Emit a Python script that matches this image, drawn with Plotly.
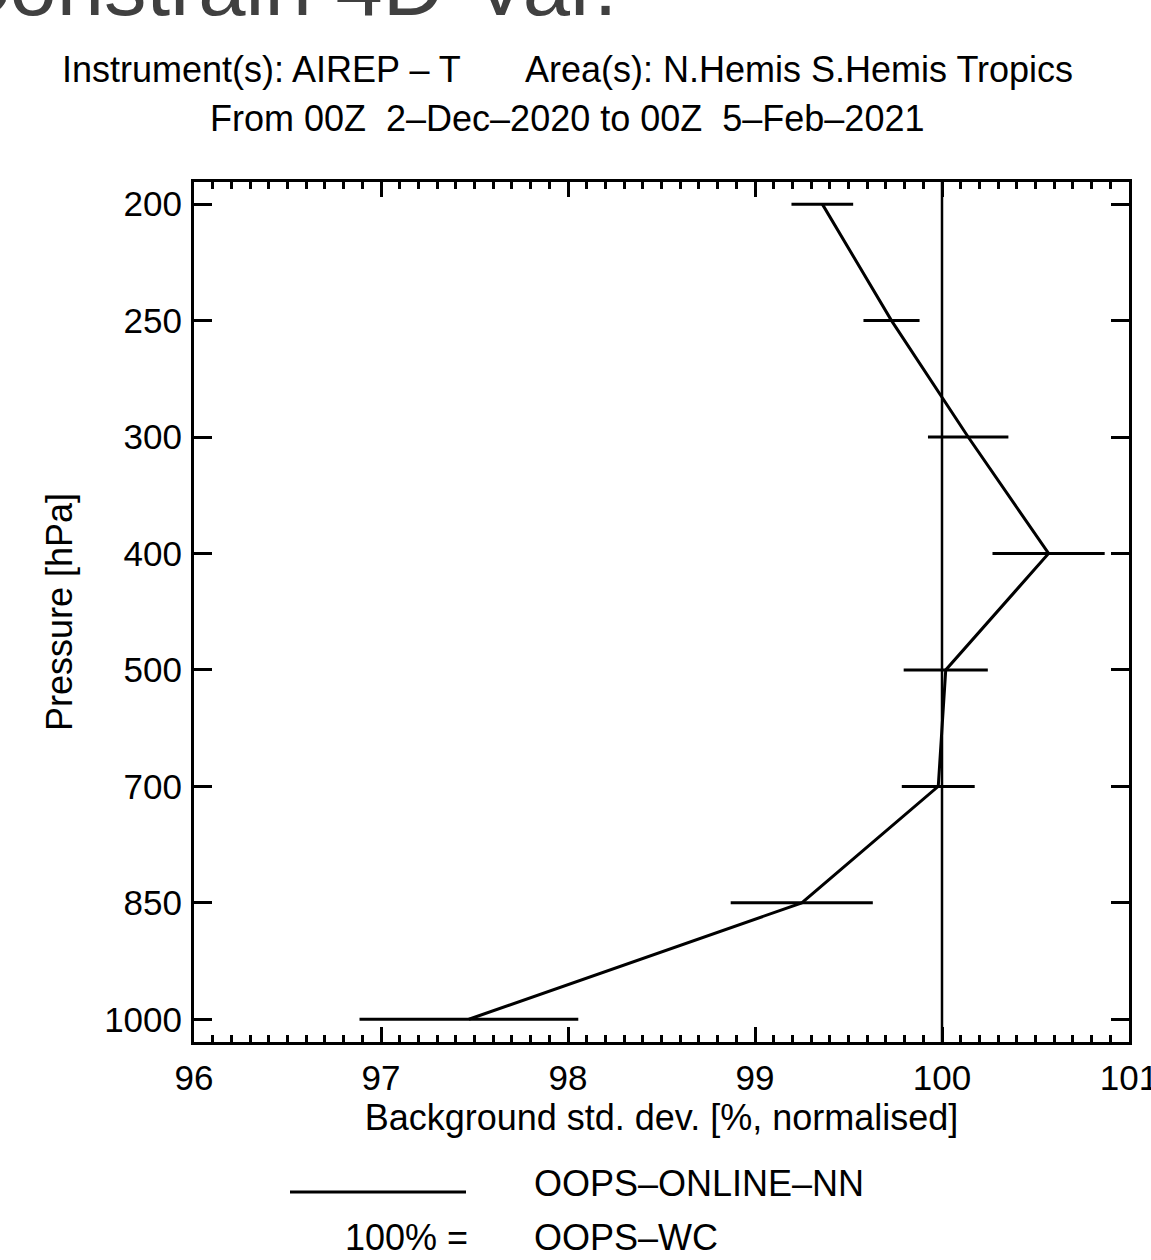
import plotly.graph_objects as go

# ---- data ----
levels = ["200", "250", "300", "400", "500", "700", "850", "1000"]
bg_std = [99.36, 99.73, 100.14, 100.57, 100.02, 99.98, 99.25, 97.47]
bg_err = [0.165, 0.15, 0.215, 0.30, 0.225, 0.195, 0.38, 0.585]
ref_value = 100  # 100% = OOPS-WC

x_range = [96, 101]
x_ticks = [96, 97, 98, 99, 100, 101]

FONT = "Liberation Sans, Arial, Helvetica, sans-serif"

# plot area in pixels (for placing page text)
W, H = 1151, 1260
L, R, T, B = 194, 1129, 182, 1042


def px(x):
    return (x - L) / (R - L)


def py(y):
    return (B - y) / (B - T)


fig = go.Figure()

fig.add_trace(go.Scatter(
    x=bg_std, y=levels, mode="lines",
    line=dict(color="black", width=3),
    error_x=dict(type="data", array=bg_err, visible=True,
                 color="black", thickness=3, width=0),
    showlegend=False, hoverinfo="x+y",
))

fig.add_shape(type="line", xref="x", yref="paper",
              x0=ref_value, x1=ref_value, y0=0, y1=1,
              line=dict(color="black", width=2.5), layer="above")

ann = []
ann.append(dict(text="Constrain 4D-Var.", x=px(-54), y=py(-15), xanchor="left",
                yanchor="middle", font=dict(size=85, color="#404040", family=FONT)))
ann.append(dict(text="Instrument(s): AIREP \u2013 T", x=px(60), y=py(70), xanchor="left",
                yanchor="middle", font=dict(size=36, color="black", family=FONT)))
ann.append(dict(text="Area(s): N.Hemis S.Hemis Tropics", x=px(523), y=py(70), xanchor="left",
                yanchor="middle", font=dict(size=36, color="black", family=FONT)))
ann.append(dict(text="From 00Z  2\u2013Dec\u20132020 to 00Z  5\u2013Feb\u20132021", x=px(567), y=py(119),
                xanchor="center", yanchor="middle", font=dict(size=36, color="black", family=FONT)))
ann.append(dict(text="OOPS\u2013ONLINE\u2013NN", x=px(532), y=py(1183), xanchor="left",
                yanchor="middle", font=dict(size=36, color="black", family=FONT)))
ann.append(dict(text="100% =", x=px(470), y=py(1237), xanchor="right",
                yanchor="middle", font=dict(size=36, color="black", family=FONT)))
ann.append(dict(text="OOPS\u2013WC", x=px(532), y=py(1237), xanchor="left",
                yanchor="middle", font=dict(size=36, color="black", family=FONT)))
for a in ann:
    a.update(xref="paper", yref="paper", showarrow=False)

fig.add_shape(type="line", xref="paper", yref="paper",
              x0=px(290), x1=px(466), y0=py(1192), y1=py(1192),
              line=dict(color="black", width=3))

fig.update_layout(
    width=W, height=H,
    autosize=False,
    margin=dict(l=L, r=W - R, t=T, b=H - B, pad=0, autoexpand=False),
    paper_bgcolor="white", plot_bgcolor="white",
    font=dict(family=FONT, size=35, color="black"),
    annotations=ann,
    showlegend=False,
)

fig.update_xaxes(
    range=x_range, tickvals=x_ticks, ticktext=[str(v) for v in x_ticks],
    ticks="inside", ticklen=15, tickwidth=2.5, tickcolor="black",
    minor=dict(dtick=0.1, ticks="inside", ticklen=7, tickwidth=2.5, tickcolor="black", showgrid=False),
    showline=True, linewidth=3, linecolor="black", mirror="allticks",
    showgrid=False, zeroline=False,
    tickfont=dict(size=35),
    ticklabelstandoff=3,
    ticklabeloverflow="allow",
    automargin=False,
    title=dict(text="Background std. dev. [%, normalised]", font=dict(size=36), standoff=7),
)
fig.update_yaxes(
    type="category", categoryorder="array", categoryarray=levels,
    range=[7.195, -0.19],
    ticks="inside", ticklen=18, tickwidth=2.5, tickcolor="black",
    showline=True, linewidth=3, linecolor="black", mirror="allticks",
    showgrid=False, zeroline=False,
    tickfont=dict(size=35),
    ticklabelstandoff=2,
    automargin=False,
    title=dict(text="Pressure [hPa]", font=dict(size=36), standoff=21),
)

fig.write_html(
    "out.html",
    config={"displayModeBar": False, "responsive": False},
    post_script="document.body.style.margin='0px';document.body.style.overflow='hidden';"
                "document.documentElement.style.overflow='hidden';",
)
